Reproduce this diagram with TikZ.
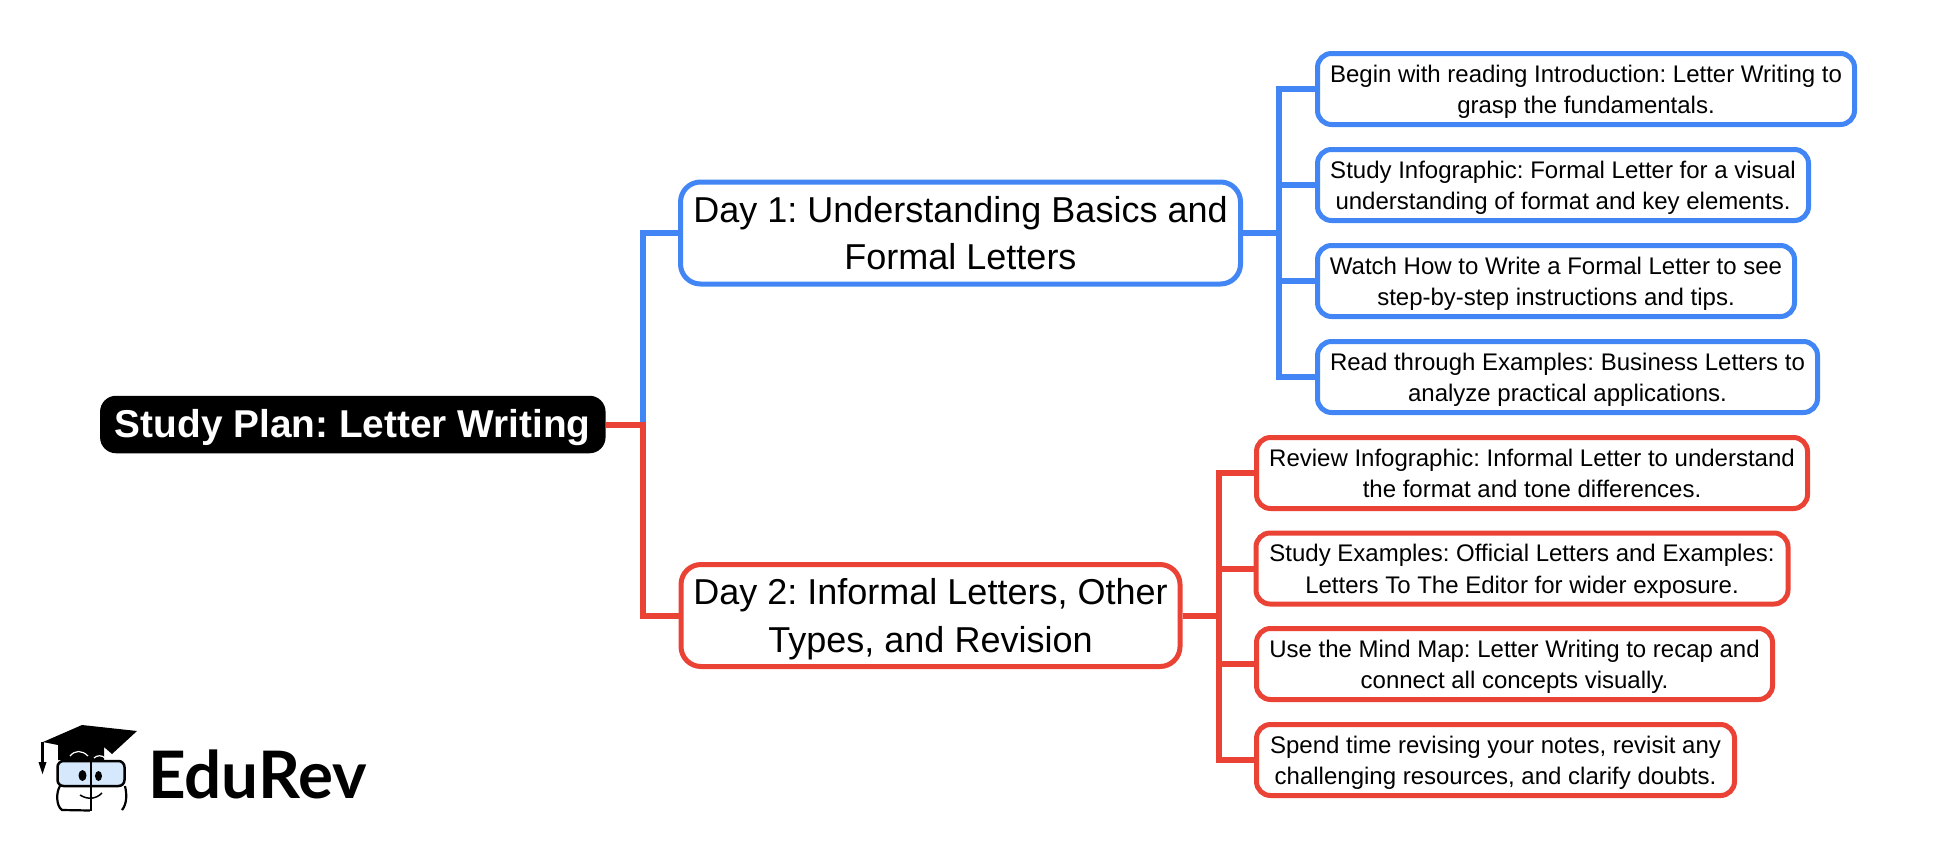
\documentclass[tikz,border=0pt]{standalone}
\usepackage{fontspec}
\setmainfont{Liberation Sans}
\newfontfamily\logofont{Lato}
\usepackage{tikz}
\usetikzlibrary{positioning}
\definecolor{blueline}{HTML}{4285F4}
\definecolor{redline}{HTML}{EA4335}
\definecolor{lensblue}{HTML}{D6E8FB}
\newcommand{\rowrule}[2]{\rule[-#2em]{0pt}{\dimexpr#1em+#2em\relax}}
\tikzstyle{rootbox}=[rectangle,rounded corners=16pt,fill=black,text=white,inner sep=0,
                align=center,font=\fontsize{38.8}{46}\selectfont\bfseries\frenchspacing,
                execute at begin node=\rowrule{1.0}{.31}]
\tikzstyle{daybox}=[rectangle,rounded corners=20pt,draw,line width=5pt,fill=white,inner sep=0,
                align=center,text=black,font=\fontsize{36}{47.5}\selectfont\frenchspacing,
                execute at begin node=\rowrule{2.26}{.22}]
\tikzstyle{kidbox}=[rectangle,rounded corners=14pt,draw,line width=5pt,fill=white,inner sep=0,
                align=center,text=black,font=\fontsize{24}{31.5}\selectfont\frenchspacing,
                execute at begin node=\rowrule{2.29}{.22}]
\tikzstyle{wire}=[line width=6pt,miter limit=10]

\begin{document}
\begin{tikzpicture}[x=1pt,y=-1pt]
\path[use as bounding box] (0,0) rectangle (1958,849);

\coordinate (busr) at (642.6,424.5);
\coordinate (busa) at (1278.6,233);
\coordinate (busb) at (1219,615.5);

\node[rootbox,minimum width=505.5pt,minimum height=57.5pt] (root) at (352.8,424.5) {Study Plan: Letter Writing};

\node[daybox,draw=blueline,minimum width=560pt,minimum height=102pt] (day1) at (960.5,233)
  {Day 1: Understanding Basics and\\Formal Letters};
\node[daybox,draw=redline,minimum width=499pt,minimum height=102pt] (day2) at (930.5,615.5)
  {Day 2: Informal Letters, Other\\Types, and Revision};

\node[kidbox,draw=blueline,minimum width=537pt,minimum height=71pt] (ka) at (1586,89)
  {Begin with reading Introduction: Letter Writing to\\grasp the fundamentals.};
\node[kidbox,draw=blueline,minimum width=491pt,minimum height=71pt] (kb) at (1563,185)
  {Study Infographic: Formal Letter for a visual\\understanding of format and key elements.};
\node[kidbox,draw=blueline,minimum width=477pt,minimum height=71pt] (kc) at (1556,281)
  {Watch How to Write a Formal Letter to see\\step-by-step instructions and tips.};
\node[kidbox,draw=blueline,minimum width=500pt,minimum height=71pt] (kd) at (1567.5,377)
  {Read through Examples: Business Letters to\\analyze practical applications.};

\node[kidbox,draw=redline,minimum width=551pt,minimum height=71pt] (ke) at (1532,473)
  {Review Infographic: Informal Letter to understand\\the format and tone differences.};
\node[kidbox,draw=redline,minimum width=532pt,minimum height=71pt] (kf) at (1522,568.5)
  {Study Examples: Official Letters and Examples:\\Letters To The Editor for wider exposure.};
\node[kidbox,draw=redline,minimum width=516pt,minimum height=71pt] (kg) at (1514.5,664)
  {Use the Mind Map: Letter Writing to recap and\\connect all concepts visually.};
\node[kidbox,draw=redline,minimum width=478pt,minimum height=71pt] (kh) at (1495.5,760)
  {Spend time revising your notes, revisit any\\challenging resources, and clarify doubts.};

\draw[wire,blueline] (busr) |- (day1.west);
\draw[wire,blueline] (day1.east) -- (busa);
\draw[wire,blueline] (busa) |- (ka.west);
\draw[wire,blueline] (busa) |- (kb.west);
\draw[wire,blueline] (busa) |- (kc.west);
\draw[wire,blueline] (busa) |- (kd.west);
\draw[wire,redline] (root.east) -- (busr) |- (day2.west);
\draw[wire,redline] (day2.east) -- (busb);
\draw[wire,redline] (busb) |- (ke.west);
\draw[wire,redline] (busb) |- (kf.west);
\draw[wire,redline] (busb) |- (kg.west);
\draw[wire,redline] (busb) |- (kh.west);

% logo
\node[inner sep=0,anchor=base west,font=\fontsize{65.5}{65.5}\selectfont\logofont\bfseries] (edurev) at (148,798) {EduRev};
\fill (43,742) -- (82,725) -- (137,731) -- (112,754) -- (104,747) -- (104,760) -- (58,760) -- (58,745) -- cycle;
\draw[line width=2.5pt] (42.5,742) -- (42.5,764);
\fill (38.5,762) -- (46.5,762) -- (42.5,774) -- cycle;
\draw[white,line width=1.2pt] (70,756) .. controls (75,750) and (82,750) .. (88,756);
\draw[white,line width=1.2pt] (94,758) .. controls (97,755) and (102,755) .. (105,758);
\draw[line width=2.2pt,fill=white] (60,786) .. controls (56,792) and (56,806) .. (62,810) -- (90,810.5)
  (125,786) .. controls (127,794) and (127,804) .. (122,810);
\draw[line width=2.5pt,rounded corners=6pt,fill=lensblue] (57.5,761) rectangle (124.5,786);
\draw[line width=2pt] (90.5,760) -- (90.5,811);
\fill (82.5,775.5) ellipse (4pt and 5.5pt);
\fill (98.5,776) ellipse (3.5pt and 5pt);
\draw[line width=1.5pt] (80,795) .. controls (88,800) and (96,799) .. (102,793);
\end{tikzpicture}
\end{document}
